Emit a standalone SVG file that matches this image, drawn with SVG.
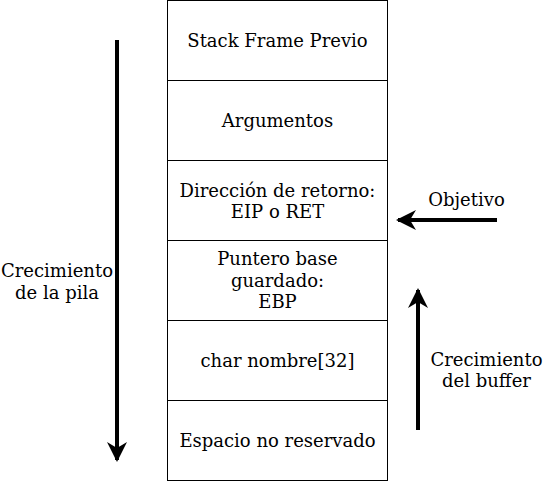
<svg xmlns="http://www.w3.org/2000/svg" width="544" height="481" viewBox="0 0 544 481">
<defs>
<marker id="ah" viewBox="0 0 10 10" refX="9" refY="5" markerWidth="5" markerHeight="5" markerUnits="strokeWidth" orient="auto">
<path d="M0,0 L10,5 L0,10 L3,5 Z" fill="#000"/>
</marker>
</defs>
<rect width="544" height="481" fill="#fff"/>
<g font-family="DejaVu Serif" font-size="18" fill="#000" text-anchor="middle">
<g id="n1"><rect fill="#fff" stroke="#000" x="167.5" y="0.5" width="220" height="80"/><text x="277.5" y="46.5">Stack Frame Previo</text></g>
<g id="n2"><rect fill="#fff" stroke="#000" x="167.5" y="80.5" width="220" height="80"/><text x="277.5" y="126.5">Argumentos</text></g>
<g id="n3"><rect fill="#fff" stroke="#000" x="167.5" y="160.5" width="220" height="80"/><text x="277.5" y="196.5">Dirección de retorno:</text><text x="277.5" y="218">EIP o RET</text></g>
<g id="n4"><rect fill="#fff" stroke="#000" x="167.5" y="240.5" width="220" height="80"/><text x="277.5" y="265">Puntero base</text><text x="277.5" y="287">guardado:</text><text x="277.5" y="308">EBP</text></g>
<g id="n5"><rect fill="#fff" stroke="#000" x="167.5" y="320.5" width="220" height="80"/><text x="277.5" y="366.5">char nombre[32]</text></g>
<g id="n6"><rect fill="#fff" stroke="#000" x="167.5" y="400.5" width="220" height="80"/><text x="277.5" y="446.5">Espacio no reservado</text></g>
<g id="labels">
<text x="57" y="277">Crecimiento</text><text x="57" y="299">de la pila</text>
<text x="466.5" y="206">Objetivo</text>
<text x="486.5" y="366">Crecimiento</text><text x="486.5" y="387">del buffer</text>
</g>
</g>
<g id="connectors" stroke="#000" stroke-width="4" fill="none">
<line x1="117" y1="40" x2="117" y2="460" marker-end="url(#ah)"/>
<line x1="497" y1="220" x2="398" y2="220" marker-end="url(#ah)"/>
<line x1="418" y1="430" x2="418" y2="290" marker-end="url(#ah)"/>
</g>
</svg>
